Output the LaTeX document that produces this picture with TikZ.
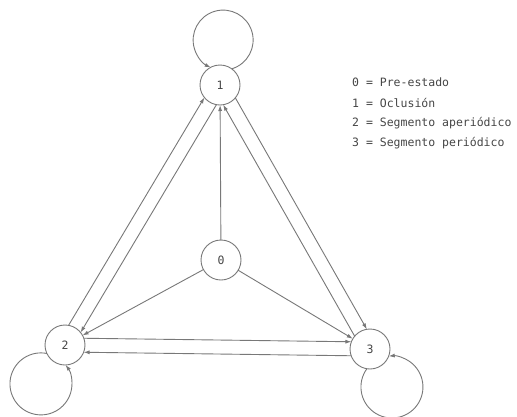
\documentclass[tikz,border=0pt]{standalone}
\usepackage{fontspec}
\newfontfamily\tw{DejaVu Sans Mono}
\usetikzlibrary{arrows.meta,calc}
\definecolor{ln}{RGB}{120,120,120}
\definecolor{tx}{RGB}{70,70,70}
\begin{document}
\begin{tikzpicture}[x=1pt,y=-1pt,
  statenode/.style={circle,draw=ln,line width=0.9pt,minimum size=40pt,inner sep=0pt,outer sep=0pt,font=\tw\fontsize{11.5}{13}\selectfont,text=tx},
  conn/.style={draw=ln,line width=0.9pt,-{Latex[length=6pt,width=4pt]}},
  pairconn/.style={conn,shorten <=18.7pt,shorten >=18.7pt},
  legtext/.style={anchor=west,font=\tw\fontsize{11.5}{13}\selectfont,text=tx,inner sep=0pt}]
\useasboundingbox[fill=white] (0,0) rectangle (517,416);
% states
\node[statenode] (n1) at (220,85) {1};
\node[statenode] (n0) at (221,260) {0};
\node[statenode] (n2) at (65,345) {2};
\node[statenode] (n3) at (370,349) {3};
% single edges from 0
\draw[conn] (n0) -- (n1);
\draw[conn] (n0) -- (n2);
\draw[conn] (n0) -- (n3);
% paired edges
\draw[pairconn] ($(n1)!7pt!90:(n2)$) -- ($(n2)!7pt!-90:(n1)$);
\draw[pairconn] ($(n2)!7pt!90:(n1)$) -- ($(n1)!7pt!-90:(n2)$);
\draw[pairconn] ($(n1)!7pt!90:(n3)$) -- ($(n3)!7pt!-90:(n1)$);
\draw[pairconn] ($(n3)!7pt!90:(n1)$) -- ($(n1)!7pt!-90:(n3)$);
\draw[pairconn] ($(n2)!7pt!90:(n3)$) -- ($(n3)!7pt!-90:(n2)$);
\draw[pairconn] ($(n3)!7pt!90:(n2)$) -- ($(n2)!7pt!-90:(n3)$);
% self loops
\draw[conn] (n1.54.6) arc[start angle=-73.3, end angle=245.6, radius=30pt];
\draw[conn] (n2.205.4) arc[start angle=79, end angle=397.8, radius=31pt];
\draw[conn] (n3.261.1) arc[start angle=144, end angle=456, radius=31pt];
% legend
\node[legtext] (l0) at (352,82) {0 = Pre-estado};
\node[legtext] (l1) at (352,102.5) {1 = Oclusión};
\node[legtext] (l2) at (352,123) {2 = Segmento aperiódico};
\node[legtext] (l3) at (352,143.5) {3 = Segmento periódico};
\end{tikzpicture}
\end{document}
